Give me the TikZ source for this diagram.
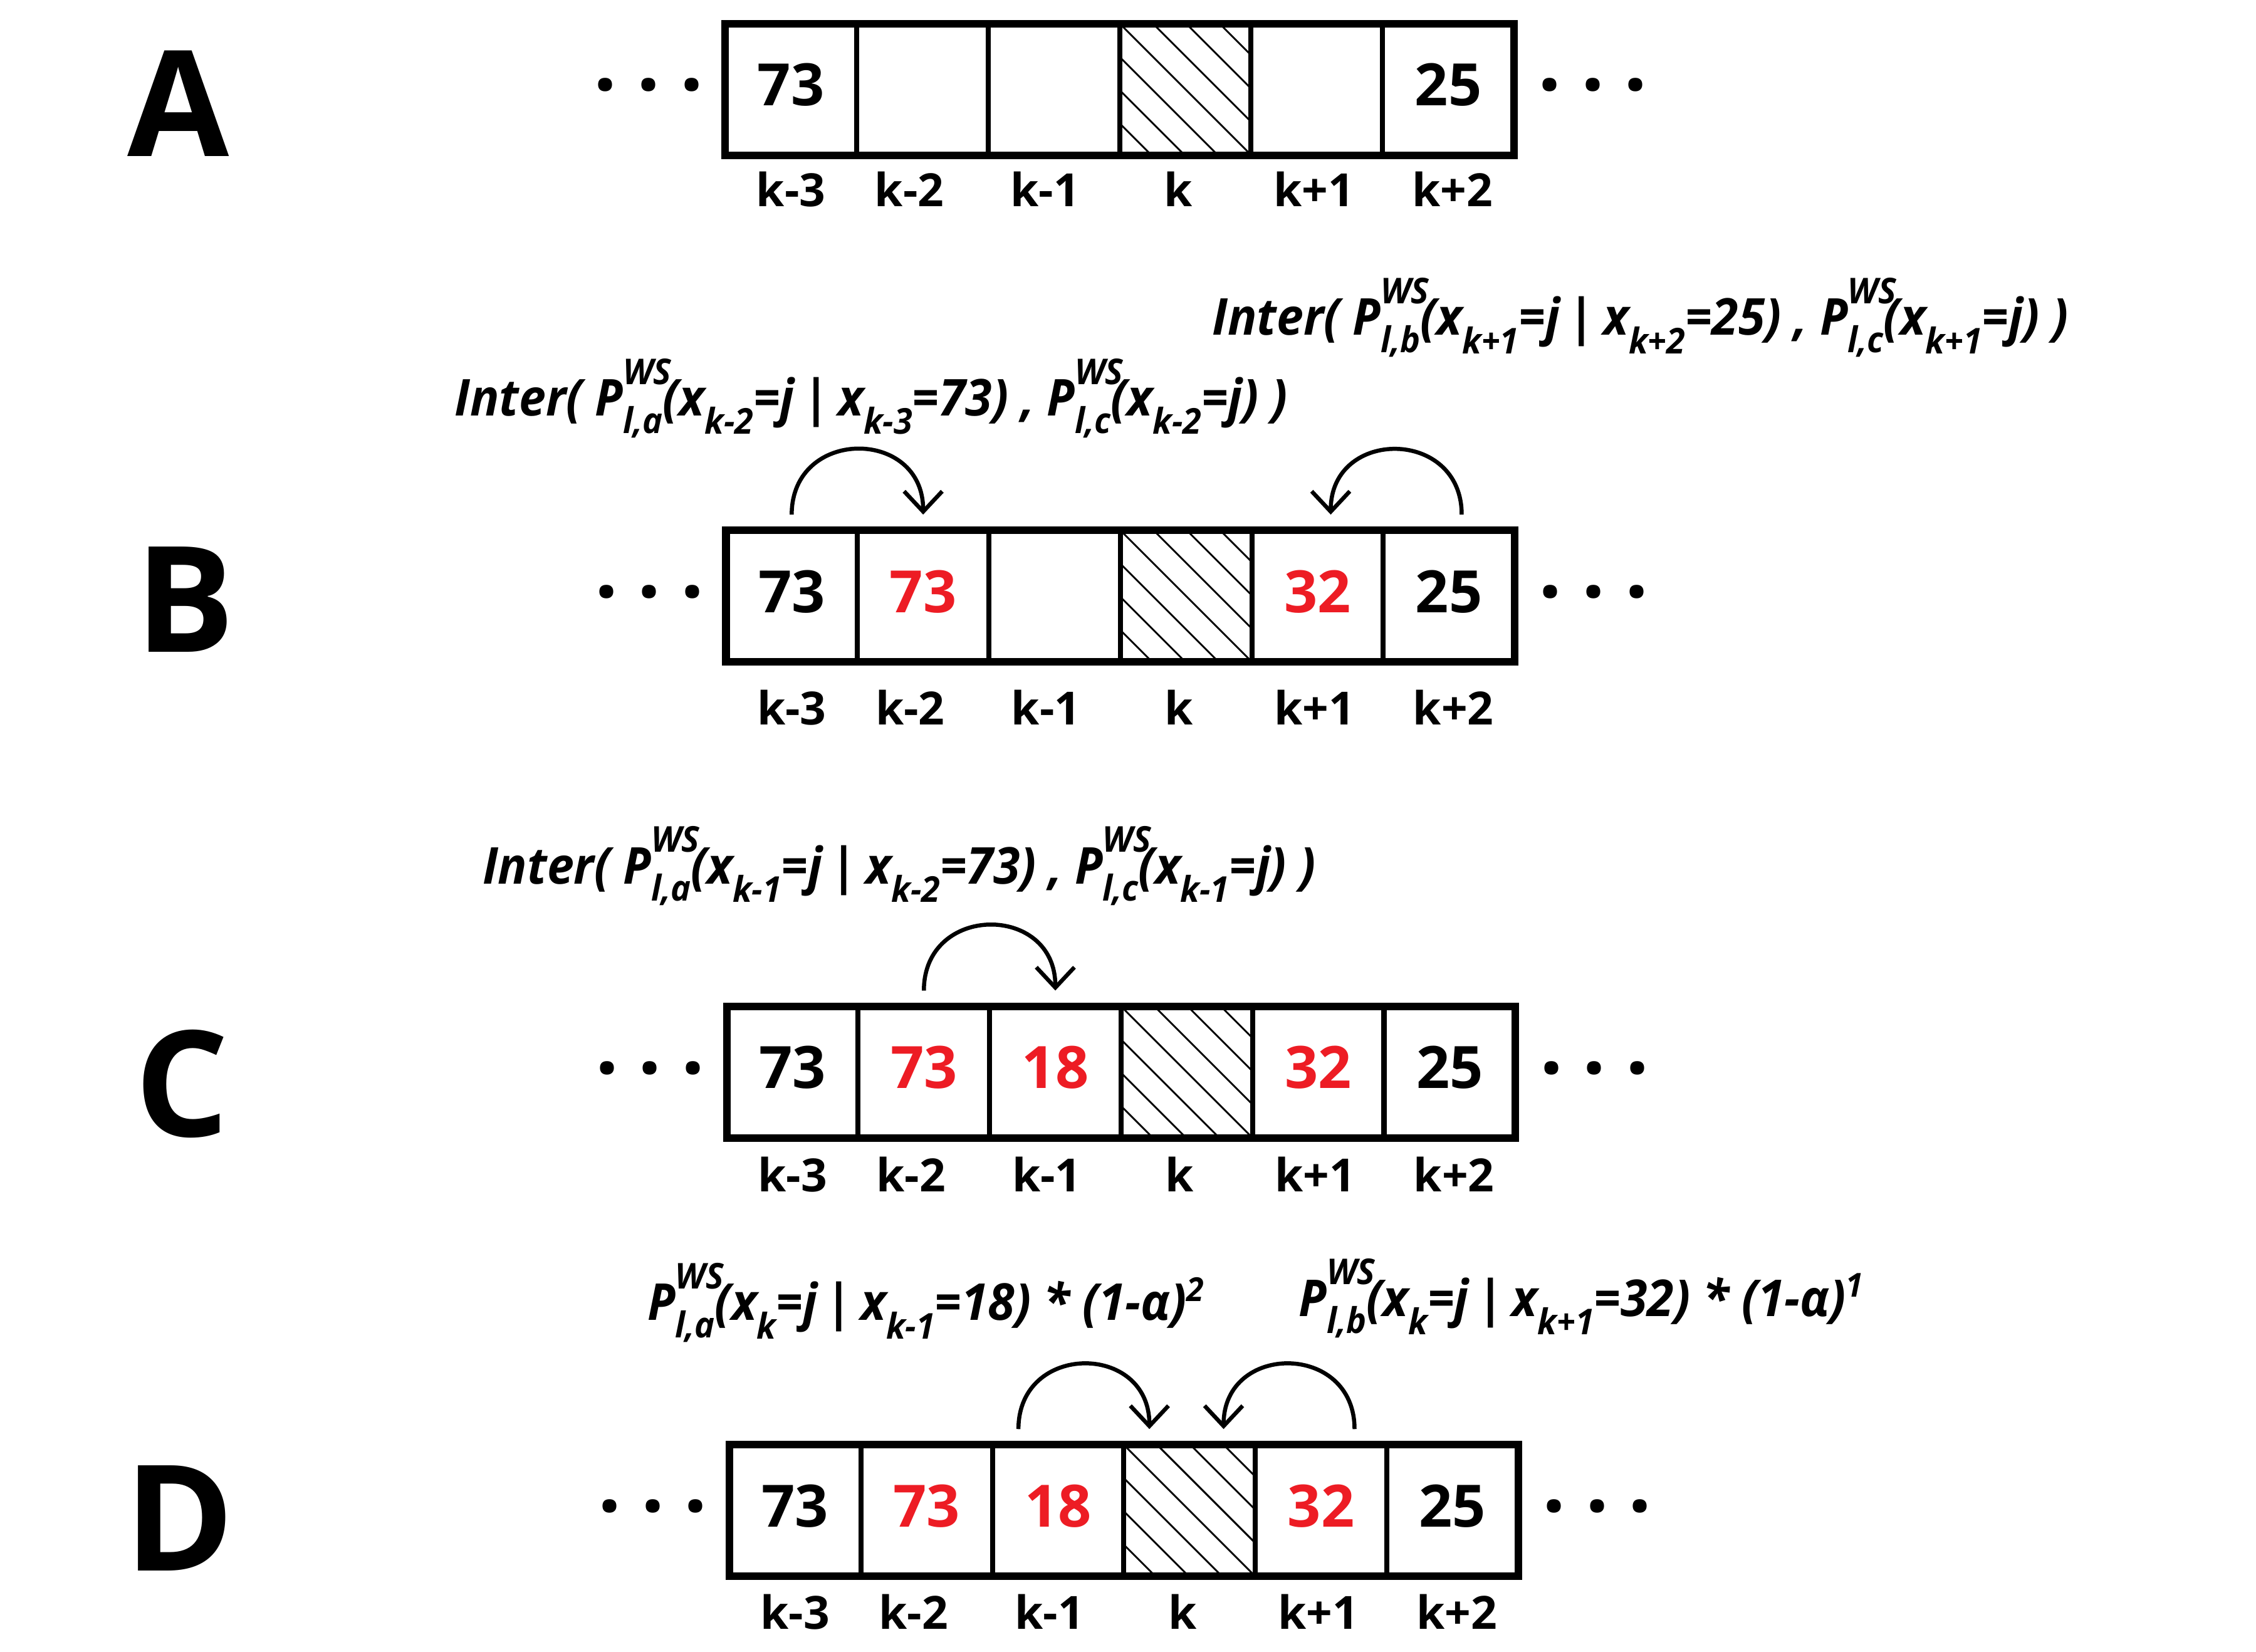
\documentclass[tikz,border=0pt]{standalone}
\usepackage{fontspec}
\setmainfont{Open Sans}
\newfontfamily\formfont[FakeStretch=0.95]{Open Sans}
\usetikzlibrary{arrows.meta}

\definecolor{setred}{RGB}{237,28,36}
\newcommand{\pws}[1]{\rlap{\raisebox{6.2pt}{\fontsize{7}{7}\selectfont WS}}\raisebox{-3.4pt}{\fontsize{7}{7}\selectfont #1}}
\newcommand{\xsub}[1]{\raisebox{-3.6pt}{\fontsize{7}{7}\selectfont #1}}
\newcommand{\xsup}[1]{\raisebox{3.8pt}{\fontsize{6.5}{6.5}\selectfont #1}}

\begin{document}
\begin{tikzpicture}[x=0.1mm, y=-0.1mm,
    >={Straight Barb[length=4pt,width=7.5pt]},
    cell/.style={draw, line width=1pt, minimum width=9.09mm, minimum height=9.1mm, inner sep=0pt, outer sep=0pt},
    frame/.style={line width=1.5pt},
    hatch/.style={line width=0.35pt},
    num/.style={font=\fontsize{11.5}{12}\selectfont\bfseries, yshift=0.9pt},
    newnum/.style={num, text=setred},
    idx/.style={font=\fontsize{9}{10}\selectfont\bfseries, anchor=base, inner sep=0pt},
    formula/.style={font=\formfont\fontsize{10}{12}\selectfont\bfseries\itshape, anchor=base west, inner sep=0pt},
    tag/.style={font=\fontsize{29}{30}\selectfont\bfseries, anchor=base, inner sep=0pt},
    dots/.style={font=\fontsize{16}{16}\selectfont\bfseries, anchor=base, inner sep=0pt},
    link/.style={thick, ->, out=90, in=90, looseness=1.7}]
        \useasboundingbox (0,0) rectangle (1560,1142.25);

        % the four rows of cells
        \foreach \r/\bx/\by/\lby in {A/501.5/61.8/143, B/502/412.2/501, C/502.5/741.3/824, D/504.4/1044.5/1126.6} {
            \foreach \i/\lab/\off in {1/k-3/0, 2/k-2/-9, 3/k-1/-6, 4/k/-5, 5/k+1/-2, 6/k+2/3} {
                \node[cell] (\r\i) at ({\bx+(\i-0.5)*90.9}, \by) {};
                \node[idx] (l\r\i) at ({\bx+(\i-0.5)*90.9+\off}, \lby) {\lab};
            }
            \begin{scope}
                \clip (\r4.north west) rectangle (\r4.south east);
                \foreach \d in {-69,-46,-23,0,23,46,69}
                    \draw[hatch] (\r4.north west) ++(\d,0) -- ++(92,92);
            \end{scope}
            \draw[frame] (\r1.north west) rectangle (\r6.south east);
            \node[dots] (dl\r) at ({\bx-53}, {\by+1}) {.\hspace{3.9pt}.\hspace{3.9pt}.};
            \node[dots] (dr\r) at ({\bx+600}, {\by+1}) {.\hspace{3.9pt}.\hspace{3.9pt}.};
        }

        \node[tag] (tA) at (123.5, 108) {A};
        \node[tag] (tB) at (128, 451) {B};
        \node[tag] (tC) at (126, 786) {C};
        \node[tag] (tD) at (124, 1086) {D};

        \node[num] (vA1) at (A1) {73};
        \node[num] (vA6) at (A6) {25};
        \node[num] (vB1) at (B1) {73};
        \node[newnum] (vB2) at (B2) {73};
        \node[newnum] (vB5) at (B5) {32};
        \node[num] (vB6) at (B6) {25};
        \node[num] (vC1) at (C1) {73};
        \node[newnum] (vC2) at (C2) {73};
        \node[newnum] (vC3) at (C3) {18};
        \node[newnum] (vC5) at (C5) {32};
        \node[num] (vC6) at (C6) {25};
        \node[num] (vD1) at (D1) {73};
        \node[newnum] (vD2) at (D2) {73};
        \node[newnum] (vD3) at (D3) {18};
        \node[newnum] (vD5) at (D5) {32};
        \node[num] (vD6) at (D6) {25};

        \node[formula] (fBb) at (837.5, 231.8) {Inter( P\pws{l,b}(x\xsub{k+1}=j\,|\,x\xsub{k+2}=25) , P\pws{l,c}(x\xsub{k+1}=j) )};
        \node[formula] (fBa) at (313.7, 287.6) {Inter( P\pws{l,a}(x\xsub{k-2}=j\,|\,x\xsub{k-3}=73) , P\pws{l,c}(x\xsub{k-2}=j) )};
        \node[formula] (fC) at (333, 611) {Inter( P\pws{l,a}(x\xsub{k-1}=j\,|\,x\xsub{k-2}=73) , P\pws{l,c}(x\xsub{k-1}=j) )};
        \node[formula] (fDa) at (447, 913) {P\pws{l,a}(x\xsub{k}=j\,|\,x\xsub{k-1}=18) * (1-α)\xsup{2}};
        \node[formula] (fDb) at (897.5, 910) {P\pws{l,b}(x\xsub{k}=j\,|\,x\xsub{k+1}=32) * (1-α)\xsup{1}};

        \draw[link] ([yshift=3.1pt]B1.north) to ([yshift=3.1pt]B2.north);
        \draw[link] ([xshift=2.5pt,yshift=3.1pt]B6.north) to ([xshift=2.6pt,yshift=3.1pt]B5.north);
        \draw[link] ([yshift=3.1pt]C2.north) to ([yshift=3.1pt]C3.north);
        \draw[link] ([xshift=-7.8pt,yshift=3.1pt]D3.north) to ([xshift=-7.9pt,yshift=3.1pt]D4.north);
        \draw[link] ([xshift=6.6pt,yshift=3.1pt]D5.north) to ([xshift=6.7pt,yshift=3.1pt]D4.north);

    \end{tikzpicture}
\end{document}
